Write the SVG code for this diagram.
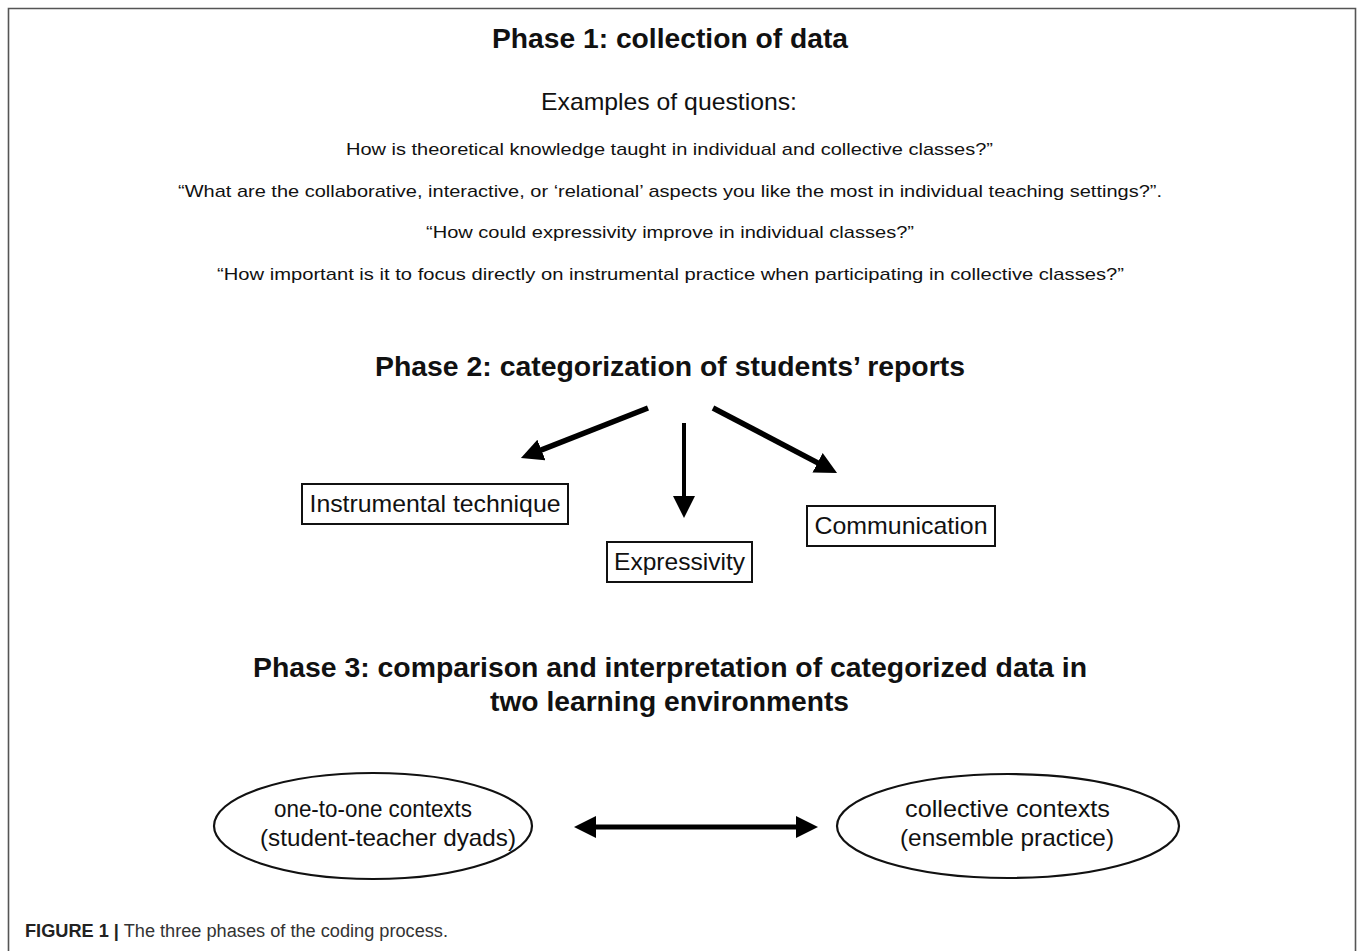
<svg xmlns="http://www.w3.org/2000/svg" width="1358" height="951" viewBox="0 0 1358 951">
  <style>
    .title { font-family: "Liberation Sans", Arial, sans-serif; font-weight: bold; font-size: 28px; fill: #111; text-anchor: middle; }
    .sub { font-family: "Liberation Sans", Arial, sans-serif; font-size: 24px; fill: #111; text-anchor: middle; }
    .q { font-family: "Liberation Sans", Arial, sans-serif; font-size: 17px; fill: #111; text-anchor: middle; }
    .lbl { font-family: "Liberation Sans", Arial, sans-serif; font-size: 24px; fill: #111; text-anchor: middle; }
    .box { fill: #fff; stroke: #111; stroke-width: 2; }
    .oval { fill: #fff; stroke: #111; stroke-width: 2.2; }
    .link { stroke: #000; fill: none; }
    .cap { font-family: "Liberation Sans", Arial, sans-serif; font-size: 18px; fill: #333; }
  </style>
  <defs>
    <marker id="head" markerUnits="userSpaceOnUse" markerWidth="24" markerHeight="24" refX="4" refY="11" orient="auto-start-reverse" viewBox="0 0 24 24">
      <path d="M0,0 L22,11 L0,22 z" fill="#000"/>
    </marker>
  </defs>

  <rect width="1358" height="951" fill="#fff"/>
  <!-- figure frame (open at the bottom) -->
  <path d="M8.5,951 V8.5 H1355.5 V951" fill="none" stroke="#555" stroke-width="1.6"/>

  <!-- Phase 1 -->
  <g id="phase1">
    <text class="title" x="670" y="48" textLength="356" lengthAdjust="spacingAndGlyphs">Phase 1: collection of data</text>
    <text class="sub" x="669" y="110" textLength="256" lengthAdjust="spacingAndGlyphs">Examples of questions:</text>
    <text class="q" x="669.5" y="155" textLength="647" lengthAdjust="spacingAndGlyphs">How is theoretical knowledge taught in individual and collective classes?”</text>
    <text class="q" x="670" y="197" textLength="984" lengthAdjust="spacingAndGlyphs">“What are the collaborative, interactive, or ‘relational’ aspects you like the most in individual teaching settings?”.</text>
    <text class="q" x="670" y="238" textLength="488" lengthAdjust="spacingAndGlyphs">“How could expressivity improve in individual classes?”</text>
    <text class="q" x="670.5" y="280" textLength="907" lengthAdjust="spacingAndGlyphs">“How important is it to focus directly on instrumental practice when participating in collective classes?”</text>
  </g>

  <!-- Phase 2 -->
  <g id="phase2">
    <text class="title" x="670" y="376" textLength="590" lengthAdjust="spacingAndGlyphs">Phase 2: categorization of students’ reports</text>
  </g>

  <g id="instrumental">
    <rect class="box" x="302" y="484" width="266" height="40"/>
    <text class="lbl" x="435" y="512" textLength="251" lengthAdjust="spacingAndGlyphs">Instrumental technique</text>
  </g>
  <g id="expressivity">
    <rect class="box" x="607" y="542" width="145" height="40"/>
    <text class="lbl" x="679.5" y="570" textLength="131" lengthAdjust="spacingAndGlyphs">Expressivity</text>
  </g>
  <g id="communication">
    <rect class="box" x="807" y="506" width="188" height="40"/>
    <text class="lbl" x="901" y="534" textLength="173" lengthAdjust="spacingAndGlyphs">Communication</text>
  </g>

  <!-- Phase 3 -->
  <g id="phase3">
    <text class="title" x="670" y="677" textLength="834" lengthAdjust="spacingAndGlyphs">Phase 3: comparison and interpretation of categorized data in</text>
    <text class="title" x="669.5" y="711" textLength="359" lengthAdjust="spacingAndGlyphs">two learning environments</text>
  </g>

  <g id="one-to-one">
    <ellipse class="oval" cx="373" cy="826" rx="159" ry="53"/>
    <text class="lbl" x="373" y="817" textLength="198" lengthAdjust="spacingAndGlyphs">one-to-one contexts</text>
    <text class="lbl" x="388" y="846" textLength="256" lengthAdjust="spacingAndGlyphs">(student-teacher dyads)</text>
  </g>
  <g id="collective">
    <ellipse class="oval" cx="1008" cy="826" rx="171" ry="52"/>
    <text class="lbl" x="1007.5" y="817" textLength="205" lengthAdjust="spacingAndGlyphs">collective contexts</text>
    <text class="lbl" x="1007" y="846" textLength="214" lengthAdjust="spacingAndGlyphs">(ensemble practice)</text>
  </g>

  <!-- connectors -->
  <g id="connectors">
    <line class="link" x1="648" y1="408" x2="537.7" y2="451.4" stroke-width="5.5" marker-end="url(#head)"/>
    <line class="link" x1="684" y1="423" x2="684" y2="500" stroke-width="4" marker-end="url(#head)"/>
    <line class="link" x1="713" y1="408" x2="821.1" y2="464.6" stroke-width="5.5" marker-end="url(#head)"/>
    <line class="link" x1="592" y1="827" x2="800" y2="827" stroke-width="5" marker-start="url(#head)" marker-end="url(#head)"/>
  </g>

  <!-- caption -->
  <g id="caption">
    <text class="cap" x="25" y="937" textLength="423" lengthAdjust="spacingAndGlyphs"><tspan font-weight="bold" fill="#222">FIGURE 1 |</tspan> The three phases of the coding process.</text>
  </g>
</svg>
